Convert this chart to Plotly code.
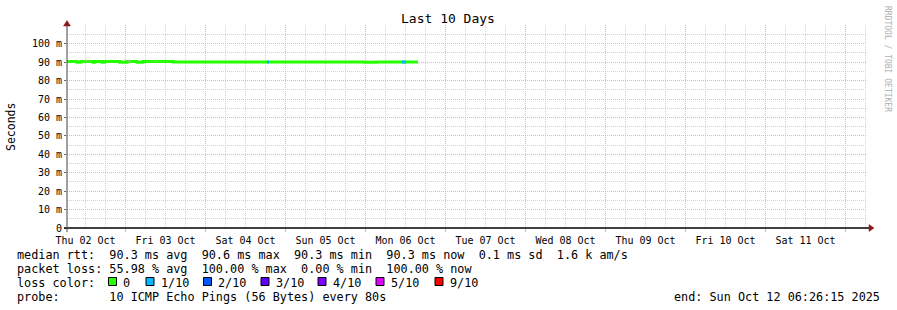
import plotly.graph_objects as go
from datetime import datetime, timedelta

# ---------------- data ----------------
end_time = datetime(2025, 10, 12, 6, 26, 15)
start_time = end_time - timedelta(days=10)

# median rtt, piecewise constant: segment start times, rtt (ms), loss (pings lost of 10)
seg_times = ["2025-10-02 06:26", "2025-10-02 09:26", "2025-10-02 10:38", "2025-10-02 14:14",
             "2025-10-02 14:50", "2025-10-02 16:56", "2025-10-02 17:32", "2025-10-02 22:20",
             "2025-10-03 00:26", "2025-10-03 03:26", "2025-10-03 05:14", "2025-10-03 14:14",
             "2025-10-04 18:26", "2025-10-04 19:02", "2025-10-05 23:14", "2025-10-05 23:50",
             "2025-10-06 03:08", "2025-10-06 10:56", "2025-10-06 12:08"]
seg_rtt = [90.3, 90.0, 90.3, 90.0, 90.3, 90.0, 90.3, 90.0, 90.3, 90.0, 90.3, 90.1,
           90.1, 90.1, 90.1, 89.9, 90.1, 90.1, 90.1]
seg_loss = [0, 0, 0, 0, 0, 0, 0, 0, 0, 0, 0, 0, 1, 0, 0, 0, 0, 1, 0]
data_end = "2025-10-06 15:44"

# smoke (max ping above median) spots
smoke_times = ["2025-10-02 12:08", "2025-10-03 00:56", "2025-10-03 08:56"]
smoke_low = [90.3, 90.3, 90.3]
smoke_high = [91.3, 91.3, 91.3]

y_ticks = [0, 10, 20, 30, 40, 50, 60, 70, 80, 90, 100]
y_ticktext = ["0", "10 m", "20 m", "30 m", "40 m", "50 m", "60 m", "70 m", "80 m", "90 m", "100 m"]
day_labels = ["Thu 02 Oct", "Fri 03 Oct", "Sat 04 Oct", "Sun 05 Oct", "Mon 06 Oct",
              "Tue 07 Oct", "Wed 08 Oct", "Thu 09 Oct", "Fri 10 Oct", "Sat 11 Oct"]
label_times = ["2025-10-02 12:00", "2025-10-03 12:00", "2025-10-04 12:00", "2025-10-05 12:00",
               "2025-10-06 12:00", "2025-10-07 12:00", "2025-10-08 12:00", "2025-10-09 12:00",
               "2025-10-10 12:00", "2025-10-11 12:00"]
midnights = ["2025-10-03", "2025-10-04", "2025-10-05", "2025-10-06", "2025-10-07",
             "2025-10-08", "2025-10-09", "2025-10-10", "2025-10-11", "2025-10-12"]

loss_labels = ["0", "1/10", "2/10", "3/10", "4/10", "5/10", "9/10"]
loss_colors = ["#26ff00", "#00b8ff", "#0059ff", "#5e00ff", "#7e00ff", "#dd00ff", "#ff0000"]

legend_rtt = "median rtt:  90.3 ms avg  90.6 ms max  90.3 ms min  90.3 ms now  0.1 ms sd  1.6 k am/s"
legend_loss = "packet loss: 55.98 % avg  100.00 % max  0.00 % min  100.00 % now"
legend_probe = "probe:       10 ICMP Echo Pings (56 Bytes) every 80s"
legend_end = "end: Sun Oct 12 06:26:15 2025"

# ---------------- layout helpers ----------------
W, H = 897, 310
MONO = "DejaVu Sans Mono"


def px(x):
    return x / W


def py(y):
    return 1 - y / H


fig = go.Figure()

# green (full) median line as steps
xs = seg_times + [data_end]
ys = seg_rtt + [seg_rtt[-1]]
fig.add_trace(go.Scatter(x=xs, y=ys, mode="lines", line=dict(color=loss_colors[0], width=3, shape="hv"),
                         hoverinfo="skip", showlegend=False))

# colored loss segments
for lvl in sorted(set(seg_loss)):
    if lvl == 0:
        continue
    sx, sy = [], []
    for i, l in enumerate(seg_loss):
        if l == lvl:
            t1 = seg_times[i + 1] if i + 1 < len(seg_times) else data_end
            sx += [seg_times[i], t1, None]
            sy += [seg_rtt[i], seg_rtt[i], None]
    fig.add_trace(go.Scatter(x=sx, y=sy, mode="lines", line=dict(color=loss_colors[lvl], width=3),
                             hoverinfo="skip", showlegend=False))

# smoke
smx, smy = [], []
for t, lo, hi in zip(smoke_times, smoke_low, smoke_high):
    smx += [t, t, None]
    smy += [lo, hi, None]
fig.add_trace(go.Scatter(x=smx, y=smy, mode="lines", line=dict(color="#b8b8b8", width=1.5),
                         hoverinfo="skip", showlegend=False))

# invisible trace to activate xaxis2 (grid axis)
fig.add_trace(go.Scatter(x=[start_time, end_time], y=[None, None], xaxis="x2", yaxis="y",
                         mode="lines", hoverinfo="skip", showlegend=False))

red_grid = "#ffa8a8"
gray_grid = "#d2d2d2"
xdom = [px(67), px(867)]

fig.update_layout(
    template="none",
    width=W, height=H,
    margin=dict(l=0, r=0, t=0, b=0, pad=0, autoexpand=False),
    paper_bgcolor="white", plot_bgcolor="white",
    font=dict(family=MONO, size=10, color="#000"),
    xaxis=dict(
        domain=xdom, range=[start_time, end_time], type="date", automargin=False,
        tickmode="array", tickvals=label_times, ticktext=day_labels,
        showgrid=False, zeroline=False, showline=False,
        ticks="outside", ticklen=3, tickcolor="rgba(0,0,0,0)",
        tickfont=dict(family=MONO, size=10, color="#000"),
    ),
    xaxis2=dict(
        domain=xdom, range=[start_time, end_time], type="date", overlaying="x", side="bottom",
        automargin=False,
        tickmode="array", tickvals=midnights, showticklabels=False,
        showgrid=True, gridcolor=red_grid, griddash="1px,1px", gridwidth=1,
        ticks="outside", ticklen=3, tickcolor=red_grid,
        minor=dict(dtick=6 * 3600 * 1000, tick0="2025-10-02 00:00", showgrid=True,
                   gridcolor=gray_grid, griddash="1px,1px", gridwidth=1, ticks=""),
        zeroline=False, showline=False,
    ),
    yaxis=dict(
        domain=[py(228), py(25.3)], range=[0, 110], automargin=False,
        tickmode="array", tickvals=y_ticks, ticktext=y_ticktext,
        showgrid=True, gridcolor=red_grid, griddash="1px,1px", gridwidth=1,
        minor=dict(dtick=5, tick0=0, showgrid=True, gridcolor=gray_grid, griddash="1px,1px", gridwidth=1),
        ticks="outside", ticklen=2, tickcolor="#666",
        zeroline=False, showline=False,
        tickfont=dict(family=MONO, size=10, color="#000"),
    ),
    hovermode=False,
    showlegend=False,
)

shapes = []
# axes lines
shapes.append(dict(type="line", xref="paper", yref="paper", x0=px(64), x1=px(869), y0=py(228), y1=py(228),
                   line=dict(color="#000", width=1.5)))
shapes.append(dict(type="line", xref="paper", yref="paper", x0=px(67), x1=px(67), y0=py(232), y1=py(25),
                   line=dict(color="#444", width=1)))
arrow_col = "#8b1a1a"
shapes.append(dict(type="path", xref="paper", yref="paper",
                   path=f"M {px(869)} {py(224.5)} L {px(874)} {py(228)} L {px(869)} {py(231.5)} Z",
                   fillcolor=arrow_col, line=dict(color=arrow_col, width=0.5)))
shapes.append(dict(type="path", xref="paper", yref="paper",
                   path=f"M {px(63.5)} {py(26)} L {px(67)} {py(20.5)} L {px(70.5)} {py(26)} Z",
                   fillcolor=arrow_col, line=dict(color=arrow_col, width=0.5)))

annotations = []
# title
annotations.append(dict(text="Last 10 Days", xref="paper", yref="paper", x=px(448), y=py(19),
                        xanchor="center", yanchor="middle", showarrow=False,
                        font=dict(family=MONO, size=13, color="#000")))
# y-axis title
annotations.append(dict(text="Seconds", xref="paper", yref="paper", x=px(11), y=py(127),
                        xanchor="center", yanchor="middle", showarrow=False, textangle=-90,
                        font=dict(family=MONO, size=11.5, color="#000")))
# watermark
annotations.append(dict(text="RRDTOOL / TOBI OETIKER", xref="paper", yref="paper", x=px(887), y=py(59),
                        xanchor="center", yanchor="middle", showarrow=False, textangle=90,
                        font=dict(family=MONO, size=8, color="#b0b0b0")))

LEG = 11.8
for txt, yy in [(legend_rtt, 254.7), (legend_loss, 268.7), ("loss color:", 282.7), (legend_probe, 296.7)]:
    annotations.append(dict(text=txt.replace(" ", "&nbsp;"), xref="paper", yref="paper", x=px(15.5), y=py(yy),
                            xanchor="left", yanchor="middle", showarrow=False, borderpad=0,
                            font=dict(family=MONO, size=LEG, color="#000")))
annotations.append(dict(text=legend_end, xref="paper", yref="paper", x=px(881), y=py(296.7),
                        xanchor="right", yanchor="middle", showarrow=False, borderpad=0,
                        font=dict(family=MONO, size=LEG, color="#000")))

box_x = [108.5, 146, 203.5, 261, 318, 376, 435]
for bx, lab, col in zip(box_x, loss_labels, loss_colors):
    shapes.append(dict(type="rect", xref="paper", yref="paper", x0=px(bx), x1=px(bx + 8),
                       y0=py(285.5), y1=py(277.5), fillcolor=col, line=dict(color="#000", width=1)))
    annotations.append(dict(text=lab, xref="paper", yref="paper", x=px(bx + 13.5), y=py(282.7),
                            xanchor="left", yanchor="middle", showarrow=False, borderpad=0,
                            font=dict(family=MONO, size=LEG, color="#000")))

fig.update_layout(shapes=shapes, annotations=annotations)

fig.write_html("out.html", config={"displayModeBar": False})
